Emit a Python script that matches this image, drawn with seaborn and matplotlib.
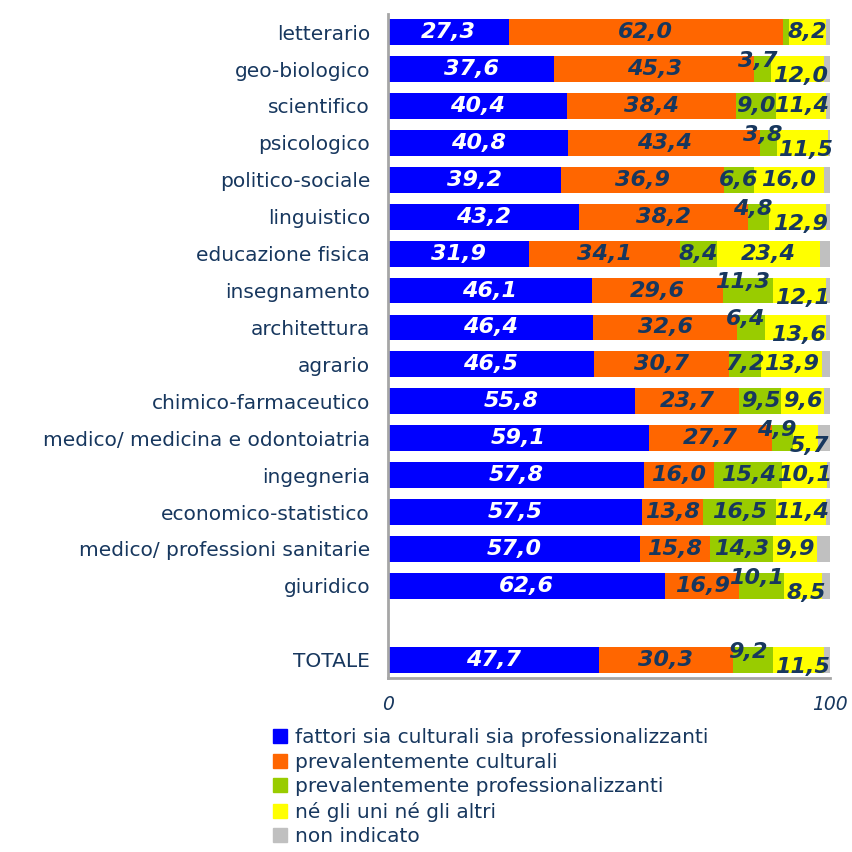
import numpy as np
import pandas as pd
import matplotlib.pyplot as plt
from matplotlib.lines import Line2D
import seaborn as sns

# Categories (top to bottom) and values
categories = ["letterario", "geo-biologico", "scientifico", "psicologico",
              "politico-sociale", "linguistico", "educazione fisica", "insegnamento",
              "architettura", "agrario", "chimico-farmaceutico",
              "medico/ medicina e odontoiatria", "ingegneria", "economico-statistico",
              "medico/ professioni sanitarie", "giuridico", "TOTALE"]
entrambi = [27.3, 37.6, 40.4, 40.8, 39.2, 43.2, 31.9, 46.1, 46.4, 46.5, 55.8,
            59.1, 57.8, 57.5, 57.0, 62.6, 47.7]
culturali = [62.0, 45.3, 38.4, 43.4, 36.9, 38.2, 34.1, 29.6, 32.6, 30.7, 23.7,
             27.7, 16.0, 13.8, 15.8, 16.9, 30.3]
professionali = [1.5, 3.7, 9.0, 3.8, 6.6, 4.8, 8.4, 11.3, 6.4, 7.2, 9.5,
                 4.9, 15.4, 16.5, 14.3, 10.1, 9.2]
nessuno = [8.2, 12.0, 11.4, 11.5, 16.0, 12.9, 23.4, 12.1, 13.6, 13.9, 9.6,
           5.7, 10.1, 11.4, 9.9, 8.5, 11.5]
non_indicato = [1.0, 1.4, 0.8, 0.5, 1.3, 0.9, 2.2, 0.9, 1.0, 1.7, 1.4,
                2.6, 0.7, 0.8, 3.0, 1.9, 1.3]

series_names = ["fattori sia culturali sia professionalizzanti",
                "prevalentemente culturali",
                "prevalentemente professionalizzanti",
                "né gli uni né gli altri",
                "non indicato"]
colors = ["#0000FF", "#FF6600", "#99CC00", "#FFFF00", "#C0C0C0"]

# rows where the small green label is lifted and the yellow one lowered
staggered = {"geo-biologico", "psicologico", "linguistico", "insegnamento",
             "architettura", "medico/ medicina e odontoiatria", "giuridico", "TOTALE"}

navy = "#17375E"
order = categories[:-1] + [" "] + ["TOTALE"]

df = pd.DataFrame({"categoria": categories, "s0": entrambi, "s1": culturali,
                   "s2": professionali, "s3": nessuno, "s4": non_indicato})
cols = ["s0", "s1", "s2", "s3", "s4"]
cum = df[cols].cumsum(axis=1)

sns.set_style("white")
fig = plt.figure(figsize=(8.53, 8.52), dpi=100)
ax = fig.add_axes([0.455, 0.204, 0.518, 0.780])

# draw stacked bars from the longest cumulative to the shortest
for i in range(4, -1, -1):
    sns.barplot(x=cum[cols[i]], y=df["categoria"], order=order, orient="h",
                color=colors[i], saturation=1, width=0.7, linewidth=0, ax=ax)

ax.set_xlim(0, 100)
ax.set_ylim(len(order) - 0.5, -0.5)
ax.set_xticks([0, 100])
ax.set_xticklabels(["0", "100"], fontsize=13.5, fontstyle="italic", color=navy)
ax.tick_params(axis="x", length=0, pad=12)
ax.tick_params(axis="y", length=0, pad=13)
for lab in ax.get_yticklabels():
    lab.set_fontsize(14.5)
    lab.set_color(navy)
ax.set_xlabel("")
ax.set_ylabel("")
for s in ["top", "right"]:
    ax.spines[s].set_visible(False)
for s in ["left", "bottom"]:
    ax.spines[s].set_color("#A6A6A6")
    ax.spines[s].set_linewidth(2)

# value labels
for r, cat in enumerate(categories):
    y = order.index(cat)
    left = 0
    for i in range(4):
        v = df[cols[i]][r]
        xc = left + v / 2
        left += v
        if v < 2:
            continue
        dx, dy = 0, 0
        if cat in staggered and i == 2:
            dx, dy = -1.2, -0.22
        if cat in staggered and i == 3:
            dx, dy = 0.8, 0.2
        ax.text(xc + dx, y + dy, f"{v:.1f}".replace(".", ","), ha="center", va="center",
                fontsize=16, fontweight="bold", fontstyle="italic",
                color="white" if i == 0 else navy)

handles = [Line2D([], [], marker="s", linestyle="", markersize=9.5,
                  markerfacecolor=c, markeredgecolor=c) for c in colors]
leg = fig.legend(handles, series_names, loc="upper left",
                 bbox_to_anchor=(0.305, 0.157), frameon=False, fontsize=14.5,
                 handletextpad=0.25, labelspacing=0.27, borderpad=0, handlelength=1.0)
for t in leg.get_texts():
    t.set_color(navy)

plt.savefig("out.png", dpi=100)
